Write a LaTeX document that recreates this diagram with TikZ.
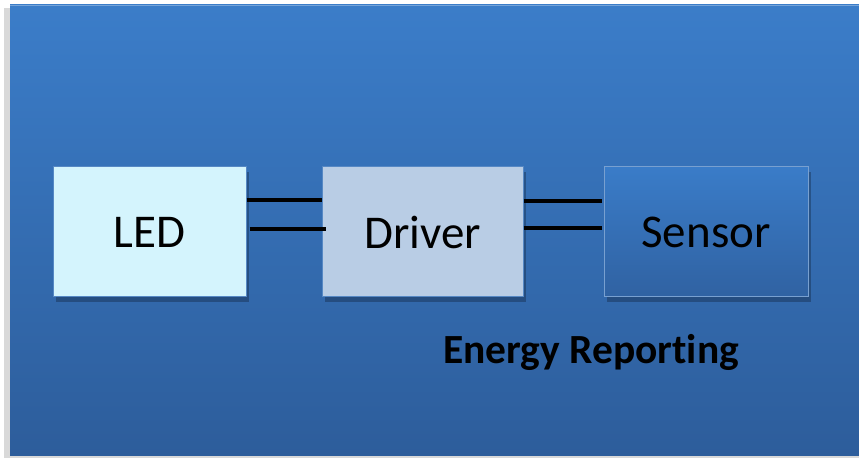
\documentclass[tikz,border=0pt]{standalone}
\usepackage{fontspec}
\setmainfont[Ligatures={NoCommon}]{Carlito}
\usetikzlibrary{positioning, calc, shadows}
\definecolor{paneltop}{RGB}{59,125,201}
\definecolor{panelbottom}{RGB}{45,93,155}
\definecolor{ledfill}{RGB}{212,244,253}
\definecolor{driverfill}{RGB}{185,205,229}
\definecolor{boxedge}{RGB}{86,136,196}
\definecolor{sensortop}{RGB}{58,124,200}
\definecolor{sensorbottom}{RGB}{48,98,162}

\tikzset{
  block/.style={draw=boxedge, line width=1pt, minimum height=130pt,
    font=\fontsize{47}{50}\selectfont,
    drop shadow={shadow xshift=3pt, shadow yshift=-5pt, fill=black, opacity=0.25}},
  wire/.style={line width=4.5pt, black}
}

\begin{document}
\begin{tikzpicture}[x=1pt, y=1pt]
        \useasboundingbox (0,0) rectangle (859,458);
        % Panel
        \fill[black!15] (4,0) rectangle (859,450);
        \shade[top color=paneltop, bottom color=panelbottom] (10,3) rectangle (859,453);
        \draw[paneltop!70!white, line width=0.8pt] (10,453) -- (859,453);

        % Blocks
        \node[block, fill=ledfill, minimum width=193pt] (led) at (149.5,226) {LED};
        \node[block, fill=driverfill, minimum width=201pt] (driver) at (422.5,226) {Driver};
        \node[block, top color=sensortop, bottom color=sensorbottom, draw=boxedge!80!white,
              minimum width=204pt] (sensor) at (706,226) {Sensor};

        % Links
        \draw[wire] ($(led.east)+(0,32)$) -- ($(driver.west)+(0,32)$);
        \draw[wire] ($(led.east)+(3,3)$) -- ($(driver.west)+(4,3)$);
        \draw[wire] ($(driver.east)+(0,31)$) -- ($(sensor.west)+(-2,31)$);
        \draw[wire] ($(driver.east)+(0,4)$) -- ($(sensor.west)+(-2,4)$);

        % Caption
        \node[font=\fontsize{41.5}{44}\selectfont\bfseries] (energy) at (591,106) {Energy Reporting};
    \end{tikzpicture}
\end{document}
